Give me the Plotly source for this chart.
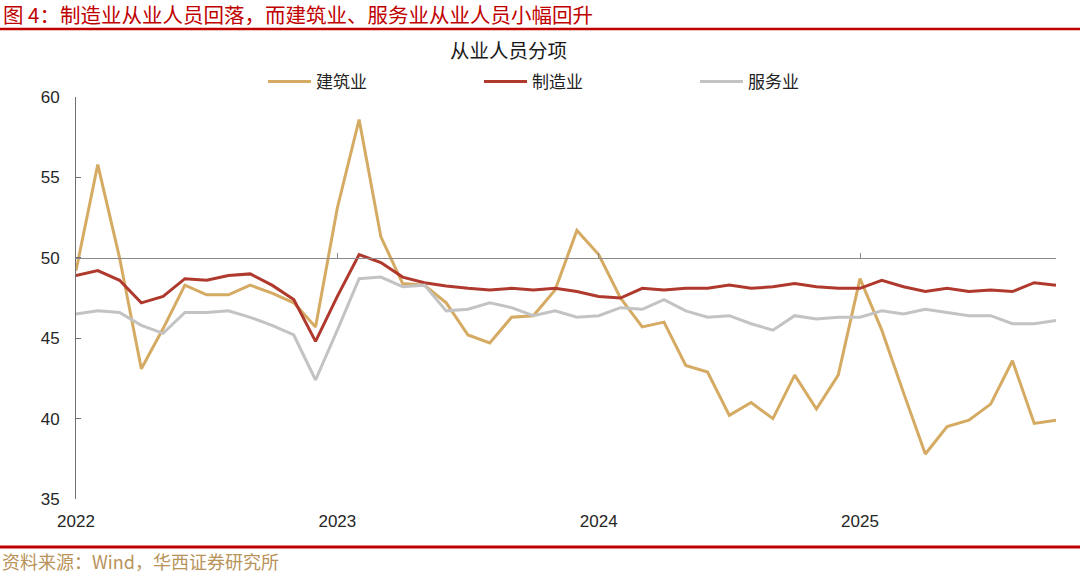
import plotly.graph_objects as go

# ---- data (monthly, Jan 2022 - Oct 2025) ----
months = list(range(46))
year_ticks = [0, 12, 24, 36]
year_labels = ["2022", "2023", "2024", "2025"]

construction = [49.2, 55.8, 50.0, 43.1, 45.6, 48.3, 47.7, 47.7, 48.3, 47.8, 47.2, 45.7,
                53.1, 58.6, 51.3, 48.4, 48.3, 47.2, 45.2, 44.7, 46.3, 46.4, 48.0, 51.7,
                50.2, 47.5, 45.7, 46.0, 43.3, 42.9, 40.2, 41.0, 40.0, 42.7, 40.6, 42.7,
                48.7, 45.5, 41.6, 37.8, 39.5, 39.9, 40.9, 43.6, 39.7, 39.9]
manufacturing = [48.9, 49.2, 48.6, 47.2, 47.6, 48.7, 48.6, 48.9, 49.0, 48.3, 47.4, 44.8,
                 47.6, 50.2, 49.7, 48.8, 48.45, 48.25, 48.1, 48.0, 48.1, 48.0, 48.1, 47.9,
                 47.6, 47.5, 48.1, 48.0, 48.1, 48.1, 48.3, 48.1, 48.2, 48.4, 48.2, 48.1,
                 48.1, 48.6, 48.2, 47.9, 48.1, 47.9, 48.0, 47.9, 48.45, 48.3]
services = [46.5, 46.7, 46.6, 45.8, 45.3, 46.6, 46.6, 46.7, 46.3, 45.8, 45.2, 42.4,
            45.5, 48.7, 48.8, 48.2, 48.3, 46.7, 46.8, 47.2, 46.9, 46.4, 46.7, 46.3,
            46.4, 46.9, 46.8, 47.4, 46.7, 46.3, 46.4, 45.9, 45.5, 46.4, 46.2, 46.3,
            46.3, 46.7, 46.5, 46.8, 46.6, 46.4, 46.4, 45.9, 45.9, 46.1]

series_names = ["建筑业", "制造业", "服务业"]
colors = ["#d5aa62", "#b0392e", "#c3c3c3"]

CJK = "Noto Sans CJK SC"
LAT = "Liberation Sans"

fig = go.Figure()
for name, vals, col in zip(series_names, [construction, manufacturing, services], colors):
    fig.add_trace(go.Scatter(x=months, y=vals, name=name, mode="lines",
                             line=dict(color=col, width=3)))

# invisible trace to carry the axis drawn through y=50
fig.add_trace(go.Scatter(x=months, y=manufacturing, xaxis="x2", mode="lines",
                         line=dict(width=0), opacity=0, showlegend=False,
                         hoverinfo="skip"))

L, R, T, B = 76, 24, 97, 76
W, H = 1080, 575
pw, ph = W - L - R, H - T - B

def px(x):
    return (x - L) / pw

def py(y):
    return (H - B - y) / ph

fig.update_layout(
    width=W, height=H,
    margin=dict(l=L, r=R, t=T, b=B, autoexpand=False),
    paper_bgcolor="white", plot_bgcolor="white",
    showlegend=True,
    legend=dict(orientation="h", x=px(263), y=py(82), xanchor="left", yanchor="middle",
                font=dict(family=CJK, size=17, color="#222222"),
                entrywidth=158, entrywidthmode="pixels", itemwidth=43,
                bgcolor="rgba(0,0,0,0)", traceorder="normal"),
    xaxis=dict(range=[0, 45], tickvals=year_ticks, ticktext=year_labels,
               showline=False, showgrid=False, zeroline=False, ticks="",
               tickfont=dict(family=LAT, size=17, color="#262626"),
               ticklabelstandoff=10),
    xaxis2=dict(range=[0, 45], overlaying="x", anchor="free", position=0.6,
                side="bottom", showline=True, linecolor="#8a8a8a", linewidth=1,
                ticks="inside", ticklen=5, tickcolor="#8a8a8a",
                tickvals=year_ticks, showticklabels=False,
                showgrid=False, zeroline=False),
    yaxis=dict(range=[35, 60], tickvals=[35, 40, 45, 50, 55, 60],
               showline=True, linecolor="#707070", linewidth=1,
               ticks="inside", ticklen=5, tickcolor="#707070",
               showgrid=False, zeroline=False,
               tickfont=dict(family=LAT, size=17, color="#262626"),
               ticklabelstandoff=12),
    hovermode=False,
)

# header / footer rules
fig.add_shape(type="line", xref="paper", yref="paper", x0=px(0), x1=px(W),
              y0=py(29), y1=py(29), line=dict(color="#c00000", width=2.5))
fig.add_shape(type="line", xref="paper", yref="paper", x0=px(0), x1=px(W),
              y0=py(547), y1=py(547), line=dict(color="#c00000", width=3))

fig.add_annotation(text="图 4：制造业从业人员回落，而建筑业、服务业从业人员小幅回升",
                   xref="paper", yref="paper", x=px(1), y=py(14.5),
                   xanchor="left", yanchor="middle", showarrow=False,
                   font=dict(family=CJK, size=20.5, color="#c00000"))
fig.add_annotation(text="从业人员分项", xref="paper", yref="paper",
                   x=px(508), y=py(49), xanchor="center", yanchor="middle",
                   showarrow=False, font=dict(family=CJK, size=19.5, color="#1a1a1a"))
fig.add_annotation(text="资料来源：Wind，华西证券研究所", xref="paper", yref="paper",
                   x=px(0), y=py(561), xanchor="left", yanchor="middle",
                   showarrow=False, font=dict(family=CJK, size=18, color="#b8935a"))

fig.write_html("out.html", config={"displayModeBar": False},
               post_script="document.body.style.margin='0';document.body.style.overflow='hidden';")
